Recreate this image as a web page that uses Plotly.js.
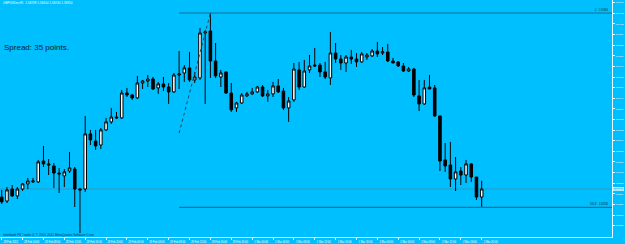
<!DOCTYPE html>
<html><head><meta charset="utf-8">
<script src="https://cdn.plot.ly/plotly-3.0.1.min.js"></script>
<style>html,body{margin:0;padding:0;background:#00bfff;}#chart{width:625px;height:244px;}</style>
</head><body><div id="chart"></div>
<script>
const symbolTitle = 'GBPUSDm,H1  1.58298 1.58404 1.58230 1.58350';
const spreadText = 'Spread: 35 points.';
const copyrightText = 'Interbank FX Trader 4, \u00a9 2001-2011 MetaQuotes Software Corp.';

const timeLabels = ['28 Feb 2012','28 Feb 04:00','28 Feb 08:00','28 Feb 12:00','28 Feb 16:00','28 Feb 20:00',
  '29 Feb 00:00','29 Feb 04:00','29 Feb 08:00','29 Feb 12:00','29 Feb 16:00','29 Feb 20:00',
  '1 Mar 00:00','1 Mar 04:00','1 Mar 08:00','1 Mar 12:00','1 Mar 16:00','1 Mar 20:00',
  '2 Mar 00:00','2 Mar 04:00','2 Mar 08:00','2 Mar 12:00','2 Mar 16:00','2 Mar 20:00'];

const open = [1.58298,1.58272,1.58350,1.58305,1.58350,1.58383,1.58396,1.58396,1.58532,1.58513,
1.58500,1.58454,1.58435,1.58467,1.58480,1.58350,1.58350,1.58708,1.58662,1.58636,
1.58734,1.58786,1.58818,1.58812,1.58974,1.58961,1.58942,1.59039,1.59052,1.59065,
1.59007,1.59033,1.59013,1.58981,1.59091,1.59104,1.59137,1.59059,1.59072,1.59364,
1.59377,1.59182,1.59078,1.59111,1.58974,1.58877,1.58909,1.58955,1.58968,1.58981,
1.59013,1.58955,1.58968,1.59020,1.58987,1.58877,1.58929,1.59124,1.59013,1.59124,
1.59156,1.59156,1.59111,1.59072,1.59234,1.59195,1.59169,1.59208,1.59195,1.59176,
1.59208,1.59215,1.59247,1.59234,1.59241,1.59182,1.59176,1.59150,1.59117,1.59130,
1.58955,1.58903,1.59013,1.59007,1.58825,1.58539,1.58506,1.58415,1.58467,1.58441,
1.58513,1.58428,1.58298];

const high = [1.58344,1.58363,1.58376,1.58363,1.58389,1.58422,1.58422,1.58539,1.58630,1.58545,
1.58519,1.58487,1.58480,1.58591,1.58493,1.58357,1.58825,1.58734,1.58734,1.58747,
1.58812,1.58877,1.58851,1.58994,1.59007,1.58968,1.59085,1.59059,1.59091,1.59078,
1.59046,1.59078,1.59039,1.59104,1.59247,1.59156,1.59241,1.59111,1.59397,1.59384,
1.59494,1.59299,1.59124,1.59111,1.59039,1.58916,1.58974,1.58981,1.59007,1.59020,
1.59026,1.58994,1.59046,1.59065,1.59007,1.58948,1.59169,1.59176,1.59189,1.59221,
1.59267,1.59169,1.59176,1.59371,1.59299,1.59221,1.59221,1.59254,1.59234,1.59241,
1.59234,1.59260,1.59306,1.59273,1.59293,1.59202,1.59182,1.59169,1.59143,1.59137,
1.59059,1.59059,1.59091,1.59026,1.58825,1.58649,1.58656,1.58558,1.58493,1.58539,
1.58519,1.58428,1.58404];

const low = [1.58253,1.58259,1.58298,1.58285,1.58337,1.58350,1.58389,1.58389,1.58493,1.58441,
1.58357,1.58324,1.58363,1.58454,1.58233,1.58064,1.58331,1.58636,1.58604,1.58610,
1.58727,1.58773,1.58805,1.58805,1.58948,1.58929,1.58935,1.59000,1.59013,1.58994,
1.58968,1.58987,1.58903,1.58974,1.59000,1.59046,1.59046,1.59039,1.59059,1.58903,
1.59072,1.59072,1.59013,1.58968,1.58851,1.58851,1.58903,1.58948,1.58961,1.58974,
1.58948,1.58916,1.58948,1.58974,1.58864,1.58786,1.58916,1.58994,1.59007,1.59104,
1.59143,1.59078,1.59065,1.59026,1.59169,1.59124,1.59111,1.59163,1.59143,1.59169,
1.59189,1.59208,1.59208,1.59221,1.59176,1.59169,1.59143,1.59111,1.59111,1.58948,
1.58857,1.58896,1.59000,1.58818,1.58467,1.58461,1.58363,1.58337,1.58376,1.58389,
1.58396,1.58279,1.58230];

const close = [1.58266,1.58344,1.58305,1.58350,1.58383,1.58402,1.58402,1.58526,1.58513,1.58506,
1.58454,1.58448,1.58461,1.58487,1.58350,1.58344,1.58708,1.58669,1.58630,1.58734,
1.58786,1.58818,1.58812,1.58974,1.58961,1.58942,1.59039,1.59052,1.59065,1.59000,
1.59033,1.59013,1.58981,1.59091,1.59098,1.59137,1.59059,1.59078,1.59364,1.59371,
1.59182,1.59085,1.59104,1.58974,1.58864,1.58909,1.58961,1.58968,1.58981,1.59013,
1.58955,1.58968,1.59020,1.58981,1.58877,1.58922,1.59130,1.59013,1.59117,1.59150,
1.59150,1.59111,1.59078,1.59234,1.59195,1.59169,1.59208,1.59195,1.59176,1.59228,
1.59221,1.59247,1.59228,1.59241,1.59182,1.59169,1.59150,1.59117,1.59130,1.58961,
1.58903,1.59007,1.59000,1.58825,1.58532,1.58500,1.58415,1.58461,1.58441,1.58513,
1.58428,1.58298,1.58350];

const priceTicks = [1.59561,1.59492,1.59423,1.59354,1.59285,1.59216,1.59147,1.59078,1.59009,1.58940,
1.58871,1.58802,1.58733,1.58664,1.58595,1.58526,1.58457,1.58388,1.58319,1.58250,1.58181,1.58112];

const bidPrice = 1.58350;
const fibLevelNames = ['0', '161.8'];
const fibLevelPrices = [1.59494, 1.58230];
const fibTrendHours = [34, 40];
const fibTrendPrices = [1.58713, 1.59494];

const hours = open.map((_, i) => i);
const xMax = 116.98;

const trace = {
  type: 'candlestick', x: hours, open: open, high: high, low: low, close: close,
  increasing: {fillcolor: '#ffffff', line: {color: '#000000', width: 1}},
  decreasing: {fillcolor: '#000000', line: {color: '#000000', width: 1}},
  whiskerwidth: 0, hoverinfo: 'skip', showlegend: false
};

const shapes = [
  {type:'line', xref:'paper', x0:0, x1:1, yref:'y', y0:bidPrice, y1:bidPrice, layer:'below',
   line:{color:'rgba(110,110,110,0.45)', width:1}},
  {type:'line', xref:'x', x0:fibTrendHours[0], x1:fibTrendHours[1], yref:'y', y0:fibTrendPrices[0], y1:fibTrendPrices[1],
   line:{color:'#224455', width:1, dash:'dot'}}
];
fibLevelPrices.forEach(p => shapes.push({type:'line', xref:'x', x0:fibTrendHours[0], x1:xMax, yref:'y', y0:p, y1:p,
  line:{color:'#1b6f93', width:1.2}}));

const annotations = [
  {text: symbolTitle, xref:'paper', yref:'paper', x:0.003, y:0.998, xanchor:'left', yanchor:'top', showarrow:false,
   font:{size:3.1, color:'#eafcff', family:'Liberation Sans'}, borderpad:0},
  {text: spreadText, xref:'paper', yref:'paper', x:3/612, y:1-47.7/237, xanchor:'left', yanchor:'middle', showarrow:false,
   font:{size:8, color:'#0a1a2a', family:'Liberation Sans'}, borderpad:0},
  {text: copyrightText, xref:'paper', yref:'paper', x:2/612, y:1-234.6/237, xanchor:'left', yanchor:'middle', showarrow:false,
   font:{size:3.2, color:'#10304a', family:'Liberation Sans'}, borderpad:0},
  {text: bidPrice.toFixed(5), xref:'paper', yref:'y', x:1, y:bidPrice, xanchor:'left', yanchor:'middle', xshift:1, showarrow:false,
   font:{size:2.3, color:'#ffffff', family:'Liberation Sans'}, bgcolor:'#6fd2f2', bordercolor:'#ffffff', borderwidth:0.5, borderpad:0.5}
];
fibLevelPrices.forEach((p, k) => annotations.push({text: fibLevelNames[k] + '&nbsp;&nbsp;&nbsp;' + p.toFixed(5), xref:'paper', yref:'y', x:0.997, y:p,
  xanchor:'right', yanchor:'bottom', showarrow:false, font:{size:2.6, color:'#0a2a3a', family:'Liberation Sans'}, borderpad:0}));

const layout = {
  width: 625, height: 244,
  margin: {l:0, r:13, t:0, b:7, pad:0},
  paper_bgcolor: '#00bfff', plot_bgcolor: '#00bfff',
  showlegend: false,
  xaxis: {
    range: [-0.33, xMax], tickvals: timeLabels.map((_, k) => k * 4), ticktext: timeLabels,
    tickfont: {size: 2.6, color: '#ffffff', family: 'Liberation Sans'},
    ticks: 'outside', ticklen: 2, tickcolor: '#e8fbff', ticklabelshift: 9,
    showgrid: false, zeroline: false, showline: true, linecolor: '#e8fbff', linewidth: 1,
    rangeslider: {visible: false}, fixedrange: true
  },
  yaxis: {
    side: 'right', range: [1.58038, 1.595785], tickvals: priceTicks, ticktext: priceTicks.map(v => v.toFixed(5)),
    tickfont: {size: 2.2, color: '#ffffff', family: 'Liberation Sans'},
    ticks: 'outside', ticklen: 2, tickcolor: '#e8fbff',
    showgrid: false, zeroline: false, showline: true, linecolor: '#e8fbff', linewidth: 1, fixedrange: true
  },
  shapes: shapes, annotations: annotations
};

Plotly.newPlot('chart', [trace], layout, {staticPlot: true, displayModeBar: false});
</script>
</body></html>
